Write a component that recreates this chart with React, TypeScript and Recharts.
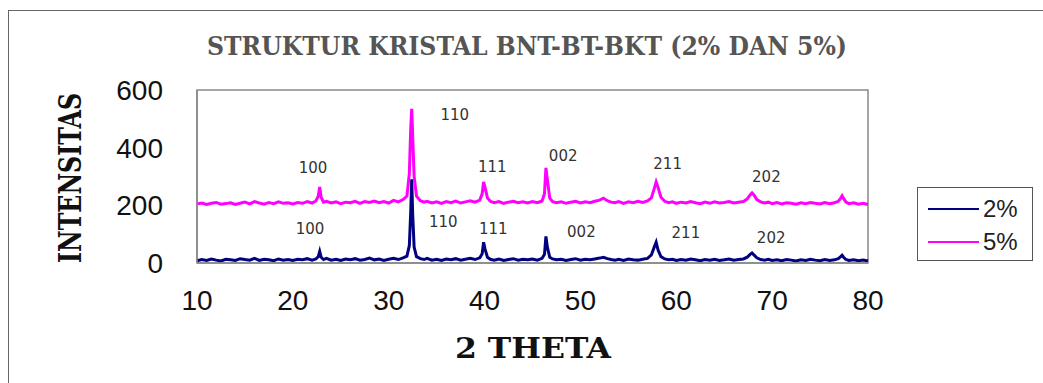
import {
  Line,
  LineChart,
  ReferenceArea,
  ReferenceDot,
  XAxis,
  YAxis,
} from "recharts";

// 2-theta sample positions (deg), shared by both patterns
const theta = [
  10, 10.5, 11, 11.5, 12, 12.5, 13, 13.5, 14, 14.5,
  15, 15.5, 16, 16.5, 17, 17.5, 18, 18.5, 19, 19.5,
  20, 20.5, 21, 21.5, 22, 22.4, 22.65, 22.8, 22.95, 23.2,
  23.5, 24, 24.5, 25, 25.5, 26, 26.5, 27, 27.5, 28,
  28.5, 29, 29.5, 30, 30.5, 31, 31.5, 31.9, 32.15, 32.3,
  32.4, 32.5, 32.65, 32.9, 33.3, 33.7, 34, 34.5, 35, 35.5,
  36, 36.5, 37, 37.5, 38, 38.5, 39, 39.5, 39.75, 39.9,
  40.05, 40.3, 40.6, 41, 41.5, 42, 42.5, 43, 43.5, 44,
  44.5, 45, 45.5, 46, 46.25, 46.4, 46.55, 46.8, 47.1, 47.5,
  48, 48.5, 49, 49.5, 50, 50.5, 51, 51.5, 52, 52.4,
  52.8, 53.2, 53.6, 54, 54.5, 55, 55.5, 56, 56.5, 57,
  57.4, 57.7, 57.9, 58.1, 58.4, 58.8, 59.2, 59.6, 60, 60.5,
  61, 61.5, 62, 62.5, 63, 63.5, 64, 64.5, 65, 65.5,
  66, 66.5, 67, 67.4, 67.7, 67.9, 68.1, 68.4, 68.8, 69.2,
  69.6, 70, 70.5, 71, 71.5, 72, 72.5, 73, 73.5, 74,
  74.5, 75, 75.5, 76, 76.5, 76.9, 77.15, 77.3, 77.45, 77.7,
  78, 78.5, 79, 79.5, 80,
];

// intensitas 2%
const int2 = [
  8, 12, 9, 14, 10, 7, 13, 11, 9, 15,
  12, 10, 16, 9, 13, 11, 8, 14, 10, 12,
  9, 13, 11, 15, 10, 14, 22, 40, 20, 12,
  16, 10, 13, 9, 14, 11, 15, 10, 12, 17,
  11, 14, 9, 13, 16, 12, 18, 24, 60, 180,
  290, 170, 55, 22, 15, 12, 16, 10, 13, 9,
  14, 11, 15, 10, 13, 16, 12, 18, 32, 72,
  48, 20, 13, 10, 14, 9, 12, 15, 10, 13,
  11, 14, 10, 16, 30, 92, 55, 20, 14, 11,
  13, 9, 12, 15, 10, 13, 11, 14, 17, 20,
  15, 12, 10, 13, 9, 14, 11, 10, 13, 16,
  28, 55, 72, 45, 22, 14, 11, 13, 9, 12,
  10, 14, 11, 8, 12, 10, 13, 9, 11, 14,
  10, 12, 14, 20, 30, 35, 28, 18, 12, 10,
  13, 9, 11, 8, 12, 10, 7, 11, 9, 13,
  10, 8, 12, 9, 11, 15, 22, 27, 20, 12,
  9, 11, 8, 10, 7,
];

// intensitas 5%
const int5 = [
  205, 208, 203, 207, 210, 204, 206, 209, 203, 207,
  211, 205, 213, 208, 204, 210, 206, 212, 207, 209,
  205, 210, 207, 213, 208, 215, 232, 264, 228, 211,
  214, 208, 212, 206, 211, 209, 214, 207, 213, 210,
  215, 209, 213, 208, 217, 212, 220, 232, 310, 470,
  535, 440, 300, 232, 216, 211, 214, 208, 212, 207,
  213, 209, 215, 208, 212, 216, 211, 218, 240, 281,
  262, 226, 214, 209, 213, 207, 211, 214, 209, 212,
  208, 213, 209, 215, 240, 330, 290, 225, 213, 209,
  212, 207, 211, 214, 208, 212, 209, 214, 218, 225,
  216, 211, 209, 213, 207, 212, 209, 214, 210, 215,
  226, 258, 281, 262, 228, 214, 209, 212, 207, 211,
  208, 213, 209, 206, 211, 207, 212, 208, 210, 213,
  208, 211, 213, 222, 236, 243, 236, 220, 212, 208,
  211, 206, 210, 205, 209, 207, 204, 209, 206, 210,
  207, 205, 210, 206, 209, 214, 225, 233, 224, 211,
  206, 209, 204, 207, 203,
];

const xTicks = [10, 20, 30, 40, 50, 60, 70, 80];
const yTicks = [0, 200, 400, 600];

// hkl labels
const hkl = ["100", "110", "111", "002", "211", "202"];
const hkl5X = [22.1, 36.9, 40.8, 48.2, 59.1, 69.4];
const hkl5Y = [330, 514, 333, 372, 344, 299];
const hkl2X = [21.8, 35.7, 40.9, 50.1, 61.0, 69.9];
const hkl2Y = [118, 142, 118, 108, 104, 87];

const NAVY = "#000080";
const MAGENTA = "#ff00ff";
const NUM_FONT = "'Liberation Sans', Arial, sans-serif";
const SERIF = "'DejaVu Serif', serif";
const LABEL_FONT = "'DejaVu Sans', Verdana, sans-serif";

const data = theta.map((t, i) => ({ t, p2: int2[i], p5: int5[i] }));

const legendRows = [
  { name: "2%", color: NAVY },
  { name: "5%", color: MAGENTA },
];

function LegendBox() {
  return (
    <div
      style={{
        position: "absolute",
        left: 917,
        top: 187,
        width: 116,
        height: 74,
        border: "1.5px solid #555",
        background: "#fff",
        boxSizing: "border-box",
        paddingTop: 4,
      }}
    >
      {legendRows.map((r) => (
        <div key={r.name} style={{ display: "flex", alignItems: "center", height: 33 }}>
          <span style={{ display: "inline-block", width: 51, height: 2, background: r.color, marginLeft: 10, marginRight: 4 }} />
          <span style={{ fontFamily: NUM_FONT, fontSize: 24, color: "#222" }}>{r.name}</span>
        </div>
      ))}
    </div>
  );
}

export default function App() {
  return (
    <div style={{ position: "absolute", left: 0, top: 0, width: 1043, height: 383, background: "#fff", overflow: "hidden" }}>
      <div
        style={{
          position: "absolute",
          left: 8,
          top: 10,
          width: 1060,
          height: 400,
          border: "1.5px solid #666",
        }}
      />
      <LineChart
        width={1043}
        height={383}
        data={data}
        margin={{ top: 90, right: 175, bottom: 90, left: 137 }}
      >
        <XAxis
          dataKey="t"
          type="number"
          domain={[10, 80]}
          ticks={xTicks}
          tick={{ fontSize: 28, fill: "#111", fontFamily: NUM_FONT }}
          axisLine={{ stroke: "#888", strokeWidth: 1.5 }}
          tickLine={false}
          tickMargin={21}
          interval={0}
        />
        <YAxis
          type="number"
          domain={[0, 600]}
          ticks={yTicks}
          width={60}
          tick={{ fontSize: 28, fill: "#111", fontFamily: NUM_FONT }}
          axisLine={{ stroke: "#888", strokeWidth: 1.5 }}
          tickLine={false}
          tickMargin={28}
          interval={0}
        />
        <ReferenceArea x1={10} x2={80} y1={0} y2={600} fill="none" stroke="#888" strokeWidth={1.5} />
        <Line
          dataKey="p2"
          name="2%"
          stroke={NAVY}
          strokeWidth={3}
          dot={false}
          isAnimationActive={false}
        />
        <Line
          dataKey="p5"
          name="5%"
          stroke={MAGENTA}
          strokeWidth={3}
          dot={false}
          isAnimationActive={false}
        />
        {hkl.map((h, i) => (
          <ReferenceDot
            key={"a" + h}
            x={hkl5X[i]}
            y={hkl5Y[i]}
            r={0}
            fill="none"
            stroke="none"
            label={{ value: h, position: "center", fontSize: 15, fill: "#333", fontFamily: LABEL_FONT }}
          />
        ))}
        {hkl.map((h, i) => (
          <ReferenceDot
            key={"b" + h}
            x={hkl2X[i]}
            y={hkl2Y[i]}
            r={0}
            fill="none"
            stroke="none"
            label={{ value: h, position: "center", fontSize: 15, fill: "#333", fontFamily: LABEL_FONT }}
          />
        ))}
      </LineChart>
      <LegendBox />
      <svg
        width={1043}
        height={383}
        style={{ position: "absolute", left: 0, top: 0, pointerEvents: "none" }}
      >
        <text
          x={527}
          y={55}
          textAnchor="middle"
          fontFamily={SERIF}
          fontWeight="bold"
          fontSize={26}
          fill="#555"
          textLength={640}
          lengthAdjust="spacingAndGlyphs"
        >
          STRUKTUR KRISTAL BNT-BT-BKT (2% DAN 5%)
        </text>
        <text
          transform="translate(81 178) rotate(-90)"
          textAnchor="middle"
          fontFamily={SERIF}
          fontWeight="bold"
          fontSize={32}
          fill="#111"
          textLength={170}
          lengthAdjust="spacingAndGlyphs"
        >
          INTENSITAS
        </text>
        <text
          x={533}
          y={358}
          textAnchor="middle"
          fontFamily={SERIF}
          fontWeight="bold"
          fontSize={27}
          fill="#111"
          textLength={156}
          lengthAdjust="spacingAndGlyphs"
        >
          2 THETA
        </text>
      </svg>
    </div>
  );
}
